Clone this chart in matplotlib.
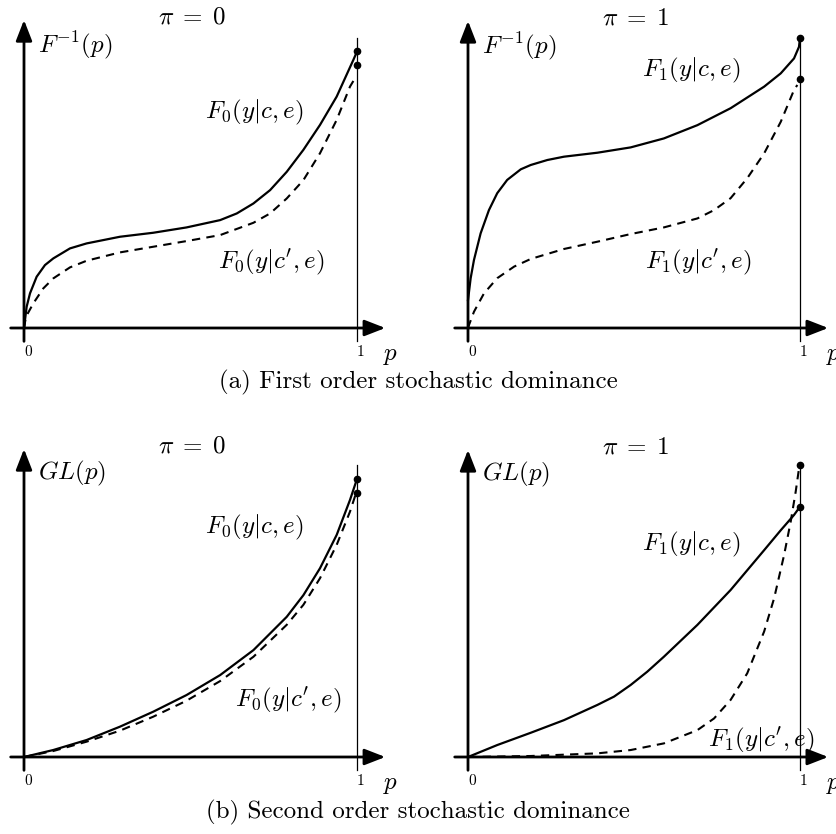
import matplotlib
matplotlib.use('Agg')
import matplotlib.pyplot as plt

plt.rcParams['mathtext.fontset'] = 'cm'

W, H = 837, 834

# ---- data (p, value) ----
tl_solid_p = [0, 0.008, 0.018, 0.038, 0.063, 0.088, 0.138, 0.188, 0.288, 0.388, 0.488, 0.589, 0.639,
              0.689, 0.739, 0.789, 0.839, 0.889, 0.939, 0.989, 1.0]
tl_solid_y = [0, 0.064, 0.104, 0.154, 0.189, 0.209, 0.239, 0.254, 0.274, 0.286, 0.302, 0.324, 0.344,
              0.374, 0.414, 0.469, 0.535, 0.610, 0.695, 0.805, 0.83]
tl_dash_p = [0, 0.006, 0.028, 0.058, 0.088, 0.138, 0.188, 0.288, 0.388, 0.488, 0.589, 0.689, 0.739,
             0.789, 0.839, 0.889, 0.939, 0.979, 0.994]
tl_dash_y = [0, 0.034, 0.074, 0.119, 0.149, 0.182, 0.202, 0.227, 0.244, 0.261, 0.279, 0.316, 0.344,
             0.389, 0.444, 0.525, 0.625, 0.725, 0.75]
tl_dots = [0.832, 0.79]

tr_solid_p = [0, 0.008, 0.018, 0.038, 0.063, 0.088, 0.118, 0.159, 0.189, 0.239, 0.289, 0.390, 0.490,
              0.590, 0.691, 0.791, 0.892, 0.942, 0.982, 0.997, 1.0]
tr_solid_y = [0.084, 0.15, 0.205, 0.285, 0.355, 0.406, 0.446, 0.478, 0.491, 0.506, 0.516, 0.528, 0.544,
              0.571, 0.611, 0.662, 0.727, 0.767, 0.812, 0.847, 0.875]
tr_dash_p = [0, 0.003, 0.018, 0.048, 0.088, 0.139, 0.189, 0.289, 0.390, 0.490, 0.590, 0.691, 0.741,
             0.791, 0.841, 0.892, 0.942, 0.982, 0.992]
tr_dash_y = [0, 0.009, 0.049, 0.104, 0.15, 0.185, 0.208, 0.238, 0.26, 0.283, 0.303, 0.33, 0.355,
             0.391, 0.451, 0.526, 0.621, 0.717, 0.732]
tr_dots = [0.875, 0.75]

bl_solid_p = [0, 0.088, 0.188, 0.288, 0.388, 0.488, 0.589, 0.689, 0.789, 0.839, 0.889, 0.939, 0.979, 1.0]
bl_solid_y = [0, 0.021, 0.051, 0.091, 0.136, 0.186, 0.246, 0.321, 0.421, 0.486, 0.567, 0.667, 0.772, 0.835]
bl_dash_p = [0, 0.088, 0.188, 0.288, 0.388, 0.488, 0.589, 0.689, 0.789, 0.839, 0.889, 0.939, 0.979, 0.997]
bl_dash_y = [0, 0.018, 0.046, 0.079, 0.121, 0.169, 0.228, 0.301, 0.397, 0.457, 0.537, 0.637, 0.737, 0.792]
bl_dots = [0.835, 0.794]

br_solid_p = [0, 0.088, 0.189, 0.289, 0.390, 0.440, 0.490, 0.540, 0.590, 0.691, 0.791, 0.892, 0.942,
              0.982, 1.0]
br_solid_y = [0, 0.036, 0.073, 0.111, 0.157, 0.182, 0.217, 0.257, 0.302, 0.398, 0.503, 0.623, 0.683,
              0.729, 0.754]
br_dash_p = [0, 0.189, 0.390, 0.490, 0.590, 0.691, 0.741, 0.791, 0.841, 0.892, 0.922, 0.952, 0.972,
             0.987, 0.997]
br_dash_y = [0, 0.003, 0.011, 0.021, 0.041, 0.081, 0.116, 0.172, 0.252, 0.378, 0.478, 0.608, 0.709,
             0.799, 0.869]
br_dots = [0.88, 0.754]

titles = [r'$\pi \;=\; 0$', r'$\pi \;=\; 1$', r'$\pi \;=\; 0$', r'$\pi \;=\; 1$']
ylabels = [r'$F^{-1}(p)$', r'$F^{-1}(p)$', r'$GL(p)$', r'$GL(p)$']
captions = ['(a) First order stochastic dominance', '(b) Second order stochastic dominance']

fig = plt.figure(figsize=(W / 100, H / 100), dpi=100)


def make_axes(x0, y0, scale):
    # x0, y0: pixel position of origin (from top-left), scale: pixels per unit
    xlim = (-0.06, 1.2)
    ylim = (-0.12, 1.0)
    left = x0 + xlim[0] * scale
    bottom = (H - y0) + ylim[0] * scale
    ax = fig.add_axes([left / W, bottom / H,
                       (xlim[1] - xlim[0]) * scale / W, (ylim[1] - ylim[0]) * scale / H])
    ax.set_xlim(*xlim)
    ax.set_ylim(*ylim)
    ax.axis('off')
    return ax


def draw_panel(ax, sp, sy, dp, dy, dots, top, title, ylab, labels):
    arrow = dict(arrowstyle='-|>,head_length=0.9,head_width=0.35', lw=2, color='black',
                 shrinkA=0, shrinkB=0, mutation_scale=14)
    ax.annotate('', xy=(0, 0.925), xytext=(0, -0.04), arrowprops=arrow)
    ax.annotate('', xy=(1.085, 0), xytext=(-0.04, 0), arrowprops=arrow)
    ax.plot([1, 1], [-0.04, top], color='black', lw=0.9)
    ax.plot(sp, sy, color='black', lw=1.6, solid_joinstyle='round')
    ax.plot(dp, dy, color='black', lw=1.5, dashes=(4, 3))
    ax.plot([1, 1], dots, 'o', color='black', ms=4.5)
    ax.text(0.012, -0.072, '0', fontsize=11, family='cmr10', ha='center', va='center')
    ax.text(1.012, -0.072, '1', fontsize=11, family='cmr10', ha='center', va='center')
    ax.text(1.1, -0.08, r'$p$', fontsize=18, ha='center', va='center')
    ax.text(0.505, 0.935, title, fontsize=18, ha='center', va='center')
    ax.text(0.042, 0.85, ylab, fontsize=18, ha='left', va='center')
    for (tx, ty, s) in labels:
        ax.text(tx, ty, s, fontsize=18, ha='left', va='center')


ax1 = make_axes(24, 328, 333)
draw_panel(ax1, tl_solid_p, tl_solid_y, tl_dash_p, tl_dash_y, tl_dots, 0.87, titles[0], ylabels[0],
           [(0.544, 0.646, r'$F_0(y|c,e)$'), (0.583, 0.198, r"$F_0(y|c',e)$")])

ax2 = make_axes(468, 328, 332)
draw_panel(ax2, tr_solid_p, tr_solid_y, tr_dash_p, tr_dash_y, tr_dots, 0.88, titles[1], ylabels[1],
           [(0.524, 0.777, r'$F_1(y|c,e)$'), (0.533, 0.199, r"$F_1(y|c',e)$")])

ax3 = make_axes(24, 757, 333)
draw_panel(ax3, bl_solid_p, bl_solid_y, bl_dash_p, bl_dash_y, bl_dots, 0.877, titles[2], ylabels[2],
           [(0.544, 0.69, r'$F_0(y|c,e)$'), (0.634, 0.171, r"$F_0(y|c',e)$")])

ax4 = make_axes(468, 757, 332)
draw_panel(ax4, br_solid_p, br_solid_y, br_dash_p, br_dash_y, br_dots, 0.88, titles[3], ylabels[3],
           [(0.524, 0.639, r'$F_1(y|c,e)$'), (0.723, 0.051, r"$F_1(y|c',e)$")])

fig.text(418 / W, 1 - 382 / H, captions[0], fontsize=18, family='cmr10', ha='center', va='center')
fig.text(418 / W, 1 - 812 / H, captions[1], fontsize=18, family='cmr10', ha='center', va='center')

fig.savefig('out.png', dpi=100)
